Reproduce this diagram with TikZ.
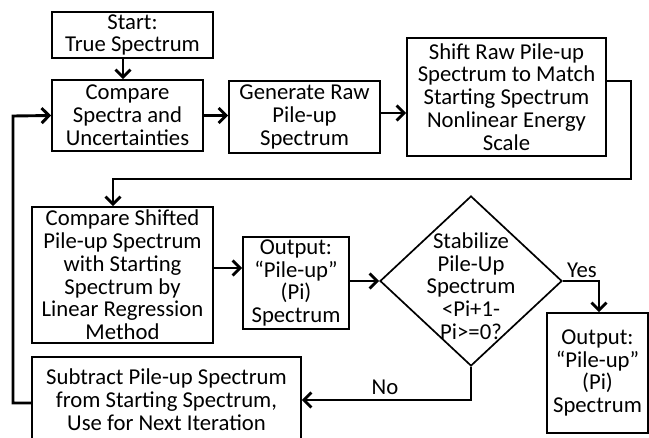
\documentclass[tikz,border=0pt]{standalone}
\usepackage{fontspec}
\setmainfont{Carlito}
\usetikzlibrary{arrows.meta,shapes.geometric}
\begin{document}
\begin{tikzpicture}[x=1pt,y=-1pt,
  txt/.style={align=center, font=\fontsize{22.7}{22.8}\selectfont},
  box/.style={txt, draw, line width=1.7pt, inner sep=0pt},
  flow/.style={line width=2.9pt, -{Straight Barb[length=7.5pt,width=15pt]}},
  lbl/.style={font=\fontsize{22.7}{22.8}\selectfont}]
\path[use as bounding box] (0,0) rectangle (649,438);
\clip (0,0) rectangle (649,438);

% process boxes
\node[box, minimum width=161pt, minimum height=46pt] (start) at (132.5,35) {Start:\\True Spectrum};
\node[box, minimum width=151pt, minimum height=71pt] (cmp) at (127.5,115.5) {Compare\\Spectra and\\Uncertainties};
\node[box, minimum width=151pt, minimum height=72pt] (gen) at (304.5,117) {Generate Raw\\Pile-up\\Spectrum};
\node[box, minimum width=199pt, minimum height=118pt] (shift) at (506.5,97) {Shift Raw Pile-up\\Spectrum to Match\\Starting Spectrum\\Nonlinear Energy\\Scale};
\node[box, minimum width=181pt, minimum height=136pt] (cmpsh) at (122.5,275) {Compare Shifted\\Pile-up Spectrum\\with Starting\\Spectrum by\\Linear Regression\\Method};
\node[box, minimum width=106pt, minimum height=92pt] (out1) at (296,283) {Output:\\“Pile-up”\\(Pi)\\Spectrum};
\node[draw, diamond, line width=1.7pt, minimum width=182pt, minimum height=170pt, inner sep=0pt] (dia) at (471,281) {};
\node[txt] (diatxt) at (471,286) {Stabilize\\Pile-Up\\Spectrum\\<Pi+1-\\Pi>=0?};
\node[box, minimum width=101pt, minimum height=120pt] (out2) at (597.5,373) {Output:\\“Pile-up”\\(Pi)\\Spectrum};
\node[box, minimum width=269pt, minimum height=86pt] (sub) at (166.5,400) {Subtract Pile-up Spectrum\\from Starting Spectrum,\\Use for Next Iteration};

% turning points of the long connectors
\coordinate (r1) at (631,179);
\coordinate (l1) at (13,116);

% connectors
\draw[flow] ([xshift=-4.5pt]cmp.north |- start.south) -- ([xshift=-4.5pt]cmp.north);
\draw[flow] (cmp.east) -- (cmp.east -| gen.west);
\draw[flow] ([yshift=4pt]gen.east) -- ([yshift=4pt]gen.east -| shift.west);
\draw[flow] ([yshift=16pt]shift.east) -| (r1) -| ([xshift=-9.5pt]cmpsh.north);
\draw[flow] ([yshift=7pt]cmpsh.east) -- ([yshift=7pt]cmpsh.east -| out1.west);
\draw[flow] (out1.east |- dia.west) -- (dia.west);
\draw[flow] (dia.east) -| ([xshift=1.5pt]out2.north);
\draw[flow] (dia.south) |- (sub.east);
\draw[flow] ([yshift=-3pt]sub.west) -| (l1) -- (cmp.west);

% branch labels
\node[lbl] (yes) at (582,270) {Yes};
\node[lbl] (no) at (385,387) {No};
\end{tikzpicture}
\end{document}
